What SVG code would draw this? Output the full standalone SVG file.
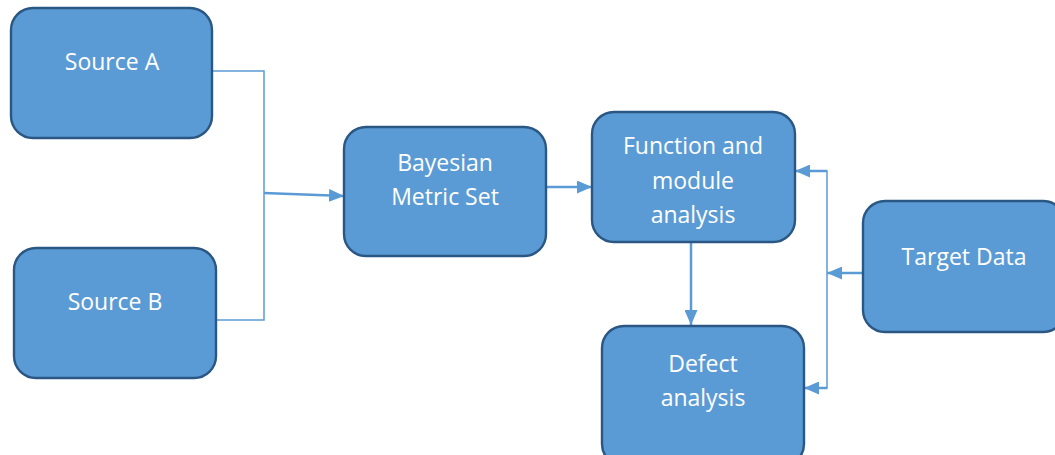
<svg xmlns="http://www.w3.org/2000/svg" width="1055" height="455" viewBox="0 0 1055 455">
<style>
.box{fill:#5B9BD5;stroke:#2A5783;stroke-width:2.4}
.lbl{font-family:"Open Sans","Liberation Sans",sans-serif;font-size:23px;fill:#FFFFFF;text-anchor:middle}
.thin{fill:none;stroke:#5B9BD5;stroke-width:1.5}
.arr{fill:none;stroke:#5B9BD5;stroke-width:2.5}
</style>
<defs>
<marker id="ah" viewBox="0 0 10 10" refX="10" refY="5" markerWidth="15" markerHeight="13" markerUnits="userSpaceOnUse" orient="auto" preserveAspectRatio="none">
<path d="M0,0 L10,5 L0,10 Z" fill="#5B9BD5"/>
</marker>
</defs>
<rect width="1055" height="455" fill="#FFFFFF"/>
<g id="connectors">
<polyline class="thin" points="212,71 264,71 264,320 216,320"/>
<line class="arr" x1="264" y1="193" x2="344" y2="196" marker-end="url(#ah)"/>
<line class="arr" x1="546" y1="187" x2="592" y2="187" marker-end="url(#ah)"/>
<line class="arr" x1="691" y1="242" x2="691" y2="325" marker-end="url(#ah)"/>
<polyline class="thin" points="826,171 827,171 827,388 826,388"/>
<line class="arr" x1="827" y1="171" x2="795" y2="171" marker-end="url(#ah)"/>
<line class="arr" x1="827" y1="388" x2="804" y2="388" marker-end="url(#ah)"/>
<line class="arr" x1="863" y1="273" x2="827" y2="273" marker-end="url(#ah)"/>
</g>
<g id="sourceA">
<rect class="box" x="11" y="8" width="201" height="130" rx="22"/>
<text class="lbl" x="112" y="70">Source A</text>
</g>
<g id="sourceB">
<rect class="box" x="14" y="248" width="202" height="130" rx="22"/>
<text class="lbl" x="115" y="310">Source B</text>
</g>
<g id="bayesian">
<rect class="box" x="344" y="127" width="202" height="129" rx="22"/>
<text class="lbl" x="445" y="171">Bayesian</text>
<text class="lbl" x="445" y="205">Metric Set</text>
</g>
<g id="function">
<rect class="box" x="592" y="112" width="203" height="130" rx="22"/>
<text class="lbl" x="693" y="154">Function and</text>
<text class="lbl" x="693" y="189">module</text>
<text class="lbl" x="693" y="223">analysis</text>
</g>
<g id="defect">
<rect class="box" x="602" y="326" width="202" height="140" rx="22"/>
<text class="lbl" x="703" y="372">Defect</text>
<text class="lbl" x="703" y="406">analysis</text>
</g>
<g id="target">
<rect class="box" x="863" y="201" width="202" height="131" rx="22"/>
<text class="lbl" x="964" y="265">Target Data</text>
</g>
</svg>
